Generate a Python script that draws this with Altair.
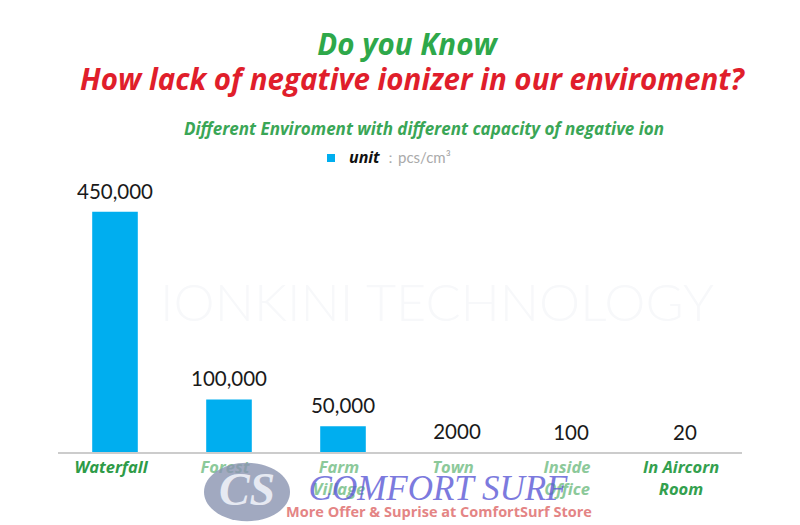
import altair as alt
import pandas as pd

categories = ["Waterfall", "Forest", "Farm Village", "Town", "Inside Office", "In Aircorn Room"]
values = [450000, 100000, 50000, 2000, 100, 20]
value_labels = ["450,000", "100,000", "50,000", "2000", "100", "20"]
axis_lines = [["Waterfall"], ["Forest"], ["Farm", "Village"], ["Town"], ["Inside", "Office"], ["In Aircorn", "Room"]]
label_colors = ["#2e9b47", "#8cc99a", "#8cc99a", "#8cc99a", "#8cc99a", "#33a04e"]

title_line1 = "Do you Know"
title_line2 = "How lack of negative ionizer in our enviroment?"
subtitle = "Different Enviroment with different capacity of negative ion"
legend_name = "unit"
legend_unit = "：pcs/cm³"
watermark = "IONKINI TECHNOLOGY"
brand = "COMFORT SURF"
brand_tag = "More Offer & Suprise at ComfortSurf Store"

df = pd.DataFrame({
    "cat": categories,
    "val": values,
    "lab": value_labels,
    "xl": axis_lines,
    "lc": label_colors,
})

xs = alt.X("cat:N", sort=categories, axis=None,
           scale=alt.Scale(domain=categories, paddingInner=0.6, paddingOuter=0.3))
ys = alt.Y("val:Q", axis=None, scale=alt.Scale(domain=[0, 500000], nice=False, zero=True))

base = alt.Chart(df)

# faint background watermark
wm = alt.Chart(pd.DataFrame({"t": [watermark]})).mark_text(
    font="Lato", fontSize=52, fontWeight=300, color="#f7f8fa", align="center", baseline="middle"
).encode(x=alt.value(379), y=alt.value(120), text="t:N")

bars = base.mark_bar(color="#00aeef").encode(x=xs, y=ys)

baseline = alt.Chart(pd.DataFrame({"z": [0]})).mark_rule(color="#cccccc", strokeWidth=2).encode(
    y=alt.Y("z:Q", scale=alt.Scale(domain=[0, 500000], nice=False), axis=None)
)

vlabels = base.mark_text(font="Lato", fontSize=20.5, color="#1a1a1a", baseline="bottom", dy=-9).encode(
    x=xs, y=ys, text="lab:N"
)

xlabels = base.mark_text(font="Open Sans", fontSize=16.5, fontWeight="bold", fontStyle="italic",
                         baseline="top", lineHeight=22, dx=-4).encode(
    x=xs, y=alt.value(275), text="xl", color=alt.Color("lc:N", scale=None)
)

def txt(t, x, y, **kw):
    return alt.Chart(pd.DataFrame({"t": [t]})).mark_text(**kw).encode(
        x=alt.value(x), y=alt.value(y), text="t:N")

t1 = txt(title_line1, 349, -130, font="Open Sans", fontSize=29.5, fontWeight="bold",
         fontStyle="italic", color="#2ea84a", align="center", baseline="alphabetic")
t2 = txt(title_line2, 354, -95, font="Open Sans", fontSize=29.5, fontWeight="bold",
         fontStyle="italic", color="#e01e2b", align="center", baseline="alphabetic")
t3 = txt(subtitle, 366, -50, font="Open Sans", fontSize=17, fontWeight="bold",
         fontStyle="italic", color="#3aa656", align="center", baseline="alphabetic")

leg_sym = alt.Chart(pd.DataFrame({"s": [1]})).mark_square(size=64, color="#00aeef", opacity=1).encode(
    x=alt.value(273), y=alt.value(-27))
leg1 = txt(legend_name, 291, -22, font="Open Sans", fontSize=16, fontWeight="bold",
           fontStyle="italic", color="#111111", align="left", baseline="alphabetic")
leg2 = txt(legend_unit, 325, -22, font="Lato", fontSize=15, color="#aaaaaa",
           align="left", baseline="alphabetic")

# brand overlay at the bottom
logo = alt.Chart(pd.DataFrame({"s": [1]})).mark_point(
    shape="M -1 0 A 1 0.68 0 1 0 1 0 A 1 0.68 0 1 0 -1 0 Z",
    size=7400, filled=True, color="#8a93b0", opacity=0.8
).encode(x=alt.value(189), y=alt.value(307))
logo_txt = txt("CS", 189, 320, font="Liberation Serif", fontSize=46, fontStyle="italic",
               fontWeight="bold", color="#eef1f8", align="center", baseline="alphabetic", opacity=0.9)
brand_t = txt(brand, 380, 315, font="Liberation Serif", fontSize=35, fontStyle="italic",
              color="#5c5ad6", align="center", baseline="alphabetic", opacity=0.8)
brand_t2 = txt(brand_tag, 381, 332, font="Open Sans", fontSize=14.5, fontWeight="bold",
               color="#e07070", align="center", baseline="alphabetic", opacity=0.85)

chart = alt.layer(
    wm, bars, baseline, vlabels, xlabels, t1, t2, t3, leg_sym, leg1, leg2,
    logo, logo_txt, brand_t, brand_t2
).resolve_scale(color="independent").properties(
    width=684, height=268,
    autosize=alt.AutoSizeParams(type="none"),
    padding={"left": 50, "top": 177, "right": 50, "bottom": 80},
    background="white",
).configure_view(stroke=None)

chart.save("out.html", embed_options={"renderer": "svg", "actions": False})
